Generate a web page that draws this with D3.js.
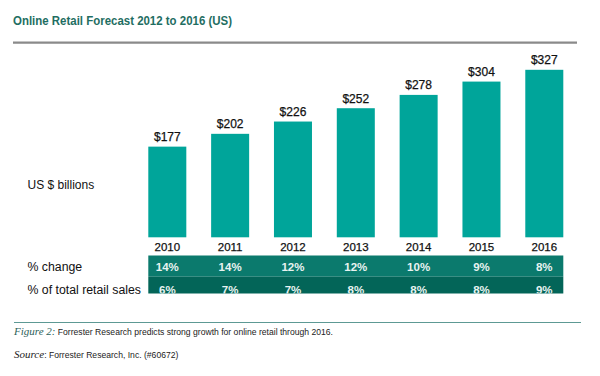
<!DOCTYPE html>
<html><head><meta charset="utf-8">
<script src="https://cdn.jsdelivr.net/npm/d3@7"></script>
<style>body{margin:0;background:#fff;} svg{display:block;}</style>
</head><body>
<svg id="chart" width="600" height="376"></svg>
<script>
const years = ["2010","2011","2012","2013","2014","2015","2016"];
const sales = [177, 202, 226, 252, 278, 304, 327];
const pctChange = ["14%","14%","12%","12%","10%","9%","8%"];
const pctTotal = ["6%","7%","7%","8%","8%","8%","9%"];
const title = "Online Retail Forecast 2012 to 2016 (US)";
const yLabel = "US $ billions";
const rowLabels = ["% change", "% of total retail sales"];

const svg = d3.select("#chart");
const font = "'Liberation Sans', Arial, sans-serif";

// title
svg.append("text").attr("x", 13).attr("y", 25).text(title)
  .attr("font-family", font).attr("font-weight", "bold").attr("font-size", 12.5)
  .attr("textLength", 219).attr("lengthAdjust", "spacingAndGlyphs")
  .attr("fill", "#1f6e62");
svg.append("line").attr("x1", 13).attr("x2", 577).attr("y1", 42.7).attr("y2", 42.7)
  .attr("stroke", "#8a8a8a").attr("stroke-width", 2.2);

const x = d3.scaleBand().domain(years).range([148.3, 563.3]).paddingInner(0.395).paddingOuter(0);
const y = d3.scaleLinear().domain([0, 327]).range([237.3, 69.8]);

svg.selectAll("rect.bar").data(sales).join("rect").attr("class", "bar")
  .attr("x", (d, i) => x(years[i])).attr("width", x.bandwidth())
  .attr("y", d => y(d)).attr("height", d => y(0) - y(d))
  .attr("fill", "#00a59a");

svg.selectAll("text.val").data(sales).join("text").attr("class", "val")
  .attr("x", (d, i) => x(years[i]) + x.bandwidth() / 2).attr("y", d => y(d) - 5.5)
  .attr("text-anchor", "middle").text(d => "$" + d)
  .attr("font-family", font).attr("font-size", 12).attr("fill", "#111")
  .attr("stroke", "#111").attr("stroke-width", 0.25);

svg.append("text").attr("x", 27.5).attr("y", 189).text(yLabel)
  .attr("font-family", font).attr("font-size", 12).attr("fill", "#111");

// x axis year labels
const xAxis = d3.axisBottom(x).tickSize(0).tickPadding(0);
const gx = svg.append("g").attr("transform", "translate(0,243)").call(xAxis);
gx.select(".domain").remove();
gx.selectAll("text").attr("font-family", font).attr("font-size", 11.5).attr("fill", "#111")
  .attr("stroke", "#111").attr("stroke-width", 0.25);

// table rows
const rows = [
  {vals: pctChange, y0: 255.5, y1: 276.7, fill: "#0b7a6d", ty: 270.5},
  {vals: pctTotal, y0: 276.7, y1: 293.5, fill: "#036558", ty: 293.5}
];
const defs = svg.append("defs");
rows.forEach((r, ri) => {
  defs.append("clipPath").attr("id", "clip" + ri).append("rect")
    .attr("x", 148.3).attr("y", r.y0).attr("width", 415).attr("height", r.y1 - r.y0);
  svg.append("rect").attr("x", 148.3).attr("y", r.y0).attr("width", 563.3 - 148.3)
    .attr("height", r.y1 - r.y0).attr("fill", r.fill);
  svg.append("g").attr("clip-path", "url(#clip" + ri + ")")
    .selectAll("text").data(r.vals).join("text")
    .attr("x", (d, i) => x(years[i]) + x.bandwidth() / 2).attr("y", r.ty)
    .attr("text-anchor", "middle").text(d => d)
    .attr("font-family", font).attr("font-weight", "bold").attr("font-size", 11.5).attr("fill", "#e8f3f1");
  svg.append("text").attr("x", 27.5).attr("y", ri === 0 ? 270.5 : 293.5).text(rowLabels[ri])
    .attr("font-family", font).attr("font-size", 12.3).attr("fill", "#111");
});

// caption
svg.append("line").attr("x1", 14).attr("x2", 581).attr("y1", 322.5).attr("y2", 322.5)
  .attr("stroke", "#5d9994").attr("stroke-width", 1.2);
const cap = svg.append("text").attr("x", 14).attr("y", 335).attr("fill", "#222");
cap.append("tspan").text("Figure 2:").attr("font-family", "'Liberation Serif', serif").attr("font-style", "italic").attr("font-size", 11).attr("fill", "#2c5f5a");
cap.append("tspan").text(" Forrester Research predicts strong growth for online retail through 2016.")
  .attr("font-family", font).attr("font-size", 8.6);
const src = svg.append("text").attr("x", 14).attr("y", 357.5).attr("fill", "#222");
src.append("tspan").text("Source").attr("font-family", "'Liberation Serif', serif").attr("font-style", "italic").attr("font-size", 11);
src.append("tspan").text(": Forrester Research, Inc. (#60672)").attr("font-family", font).attr("font-size", 8.6);
</script>
</body></html>
